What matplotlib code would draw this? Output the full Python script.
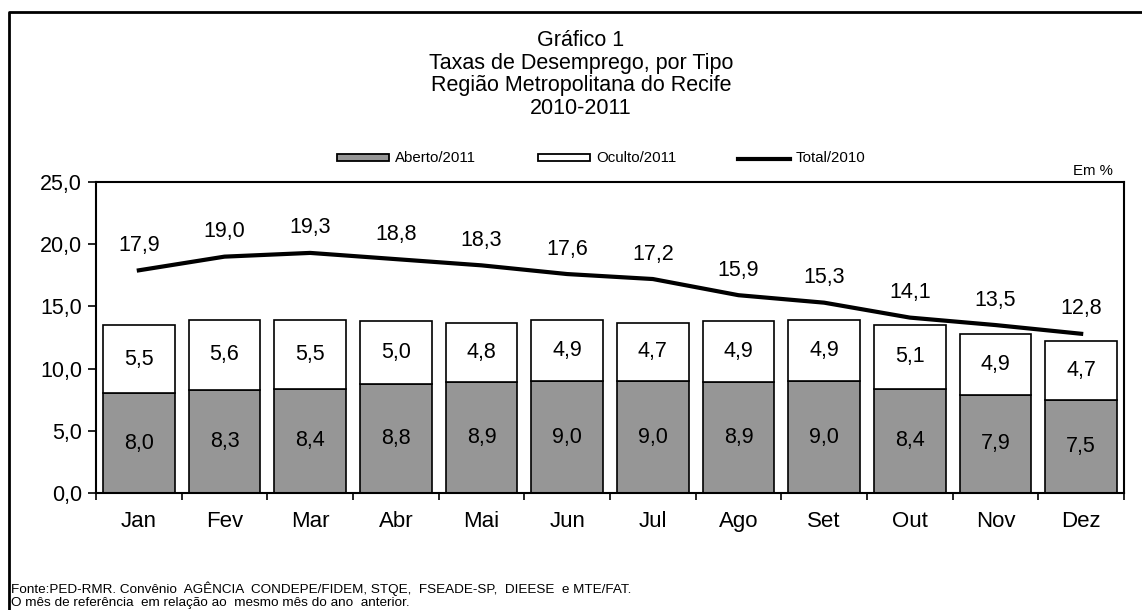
import matplotlib
matplotlib.use("Agg")
import matplotlib.pyplot as plt
from matplotlib.patches import Rectangle
from matplotlib.lines import Line2D
import numpy as np

plt.rcParams['font.family'] = ['Liberation Sans', 'DejaVu Sans']

meses = ["Jan", "Fev", "Mar", "Abr", "Mai", "Jun", "Jul", "Ago", "Set", "Out", "Nov", "Dez"]
aberto_2011 = [8.0, 8.3, 8.4, 8.8, 8.9, 9.0, 9.0, 8.9, 9.0, 8.4, 7.9, 7.5]
oculto_2011 = [5.5, 5.6, 5.5, 5.0, 4.8, 4.9, 4.7, 4.9, 4.9, 5.1, 4.9, 4.7]
total_2010 = [17.9, 19.0, 19.3, 18.8, 18.3, 17.6, 17.2, 15.9, 15.3, 14.1, 13.5, 12.8]

W, H = 1142, 610
fig = plt.figure(figsize=(W / 100, H / 100), dpi=100)

def fx(px):
    return px / W

def fy(py):
    return 1 - py / H

# eixo principal (pixels: esquerda 96, direita 1124, topo 182, base 493)
ax = fig.add_axes([fx(96), fy(493), fx(1124) - fx(96), fy(182) - fy(493)])

x = np.arange(len(meses))
cinza = "#969696"
ax.bar(x, aberto_2011, width=0.84, color=cinza, edgecolor="black", linewidth=1.2, zorder=2)
ax.bar(x, oculto_2011, width=0.84, bottom=aberto_2011, color="white", edgecolor="black",
       linewidth=1.2, zorder=2)
ax.plot(x, total_2010, color="black", linewidth=3, zorder=3)

def fmt(v):
    return f"{v:.1f}".replace(".", ",")

for i in range(len(meses)):
    ax.text(x[i], aberto_2011[i] / 2, fmt(aberto_2011[i]), ha="center", va="center", fontsize=15.5)
    ax.text(x[i], aberto_2011[i] + oculto_2011[i] / 2, fmt(oculto_2011[i]), ha="center",
            va="center", fontsize=15.5)
    ax.annotate(fmt(total_2010[i]), (x[i], total_2010[i]), xytext=(0, 25),
                textcoords="offset pixels", ha="center", va="center", fontsize=15.5)

ax.set_xlim(-0.5, len(meses) - 0.5)
ax.set_ylim(0, 25)
ax.set_yticks(np.arange(0, 26, 5))
ax.set_yticklabels([fmt(v) for v in np.arange(0, 26, 5)], fontsize=15.5)
ax.set_xticks(x)
ax.set_xticklabels(meses, fontsize=16)
ax.set_xticks(np.arange(-0.5, len(meses)), minor=True)
ax.tick_params(axis="x", which="major", length=0, pad=13)
ax.tick_params(axis="x", which="minor", length=5, direction="out", width=1.2)
ax.tick_params(axis="y", length=6, width=1.2, pad=4)
for s in ax.spines.values():
    s.set_linewidth(1.5)
    s.set_color("black")

# titulo
titulo = ["Gráfico 1", "Taxas de Desemprego, por Tipo", "Região Metropolitana do Recife", "2010-2011"]
for k, linha in enumerate(titulo):
    fig.text(fx(581), fy(41 + 22.5 * k), linha, ha="center", va="center", fontsize=15.5)

# legenda
fig.patches.append(Rectangle((fx(337), fy(161)), fx(52), fy(154) - fy(161), facecolor=cinza,
                             edgecolor="black", linewidth=1.3, transform=fig.transFigure))
fig.text(fx(395), fy(158), "Aberto/2011", va="center", fontsize=10.8)
fig.patches.append(Rectangle((fx(538), fy(161)), fx(52), fy(154) - fy(161), facecolor="white",
                             edgecolor="black", linewidth=1.3, transform=fig.transFigure))
fig.text(fx(596), fy(158), "Oculto/2011", va="center", fontsize=10.8)
fig.lines.append(Line2D([fx(738), fx(790)], [fy(159), fy(159)], color="black", linewidth=3,
                        transform=fig.transFigure))
fig.text(fx(796), fy(158), "Total/2010", va="center", fontsize=10.8)

fig.text(fx(1113), fy(171), "Em %", ha="right", va="center", fontsize=10.8)

# rodape
fig.text(fx(11), fy(589), "Fonte:PED-RMR. Convênio  AGÊNCIA  CONDEPE/FIDEM, STQE,  FSEADE-SP,  DIEESE  e MTE/FAT.",
         va="center", fontsize=9.7)
fig.text(fx(11), fy(603), "O mês de referência  em relação ao  mesmo mês do ano  anterior.",
         va="center", fontsize=9.7)

# moldura externa
fig.lines.append(Line2D([fx(9), fx(9), fx(1150)], [fy(620), fy(12), fy(12)], color="black",
                        linewidth=2, transform=fig.transFigure))

fig.savefig("out.png", dpi=100, facecolor="white")
